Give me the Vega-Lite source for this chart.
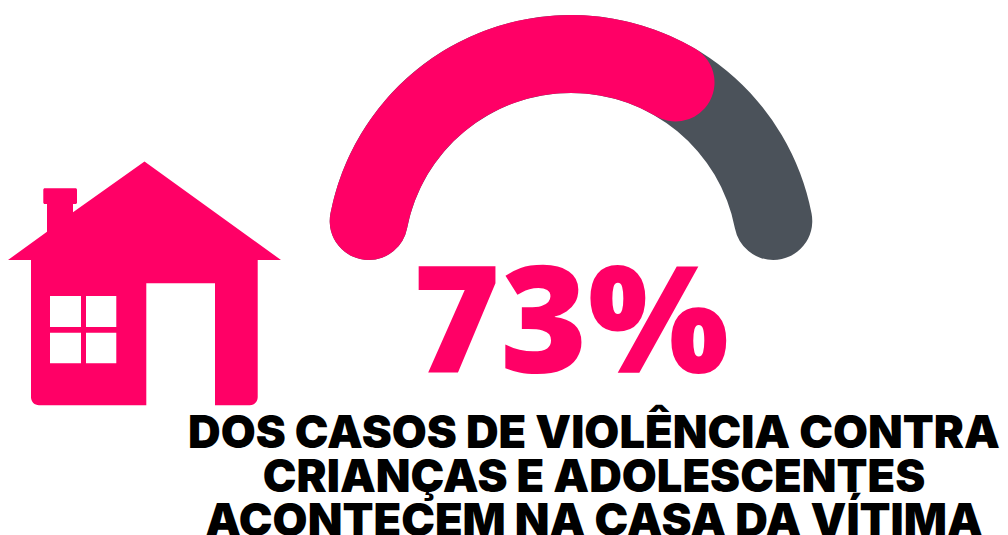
{
  "$schema": "https://vega.github.io/schema/vega-lite/v6.json",
  "width": 1008,
  "height": 535,
  "padding": 0,
  "autosize": {"type": "fit", "contains": "padding"},
  "background": "white",
  "view": {"stroke": null},
  "datasets": {
    "gauge": [
      {"part": "restante", "value": 100, "column": 2, "row": 1},
      {"part": "casa da vítima", "value": 73, "column": 2, "row": 1}
    ],
    "house": [{"part": "casa", "column": 1, "row": 2}],
    "figure": [{"label": "73%", "column": 2, "row": 3}],
    "caption": [
      {"line": "DOS CASOS DE VIOLÊNCIA CONTRA", "column": 3, "row": 4},
      {"line": "CRIANÇAS E ADOLESCENTES", "column": 3, "row": 5},
      {"line": "ACONTECEM NA CASA DA VÍTIMA", "column": 3, "row": 6}
    ]
  },
  "encoding": {
    "x": {
      "field": "column",
      "type": "quantitative",
      "axis": null,
      "scale": {"domain": [1, 2, 3], "range": [144.5, 571, 594]}
    },
    "y": {
      "field": "row",
      "type": "quantitative",
      "axis": null,
      "scale": {"domain": [1, 2, 3, 4, 5, 6], "range": [260, 283.5, 372.7, 447.7, 491.7, 535.7]}
    }
  },
  "layer": [
    {
      "data": {"name": "gauge"},
      "mark": {"type": "arc", "innerRadius": 167, "outerRadius": 245, "cornerRadius": 39},
      "encoding": {
        "theta": {
          "field": "value",
          "type": "quantitative",
          "stack": null,
          "scale": {"domain": [0, 100], "range": [-1.5708, 1.5708]}
        },
        "theta2": {"datum": 0},
        "color": {
          "field": "part",
          "type": "nominal",
          "legend": null,
          "sort": null,
          "scale": {"domain": ["restante", "casa da vítima"], "range": ["#4B525A", "#FF0066"]}
        }
      }
    },
    {
      "data": {"name": "house"},
      "mark": {
        "type": "point",
        "filled": true,
        "opacity": 1,
        "size": 4,
        "color": "#FF0066",
        "shape": "M0 -122L136.5 -23.5L113.2 -23.5L113.2 113.8A8 8 0 0 1 105.2 121.8L70.5 121.8L70.5 -0.2L1.8 -0.2L1.8 121.8L-105.5 121.8A8 8 0 0 1 -113.5 113.8L-113.5 -23.5L-136.5 -23.5L-97.5 -51.8L-97.5 -79.5L-99.7 -79.5A1.5 1.5 0 0 1 -101.2 -81L-101.2 -93.7A1.5 1.5 0 0 1 -99.7 -95.2L-69 -95.2A1.5 1.5 0 0 1 -67.5 -93.7L-67.5 -81A1.5 1.5 0 0 1 -69 -79.5L-71.5 -79.5L-71.5 -71.2ZM-94.5 12.5L-94.5 43.5L-63.5 43.5L-63.5 12.5ZM-58.5 12.5L-58.5 43.5L-28.2 43.5L-28.2 12.5ZM-94.5 49.2L-94.5 79.8L-63.5 79.8L-63.5 49.2ZM-58.5 49.2L-58.5 79.8L-28.2 79.8L-28.2 49.2Z"
      }
    },
    {
      "data": {"name": "figure"},
      "mark": {
        "type": "text",
        "font": "Open Sans",
        "fontWeight": 800,
        "fontSize": 149,
        "align": "center",
        "baseline": "alphabetic",
        "color": "#FF0066"
      },
      "encoding": {"text": {"field": "label"}}
    },
    {
      "data": {"name": "caption"},
      "mark": {
        "type": "text",
        "font": "Inter",
        "fontWeight": 900,
        "fontSize": 45.2,
        "align": "center",
        "baseline": "alphabetic",
        "color": "#000000"
      },
      "encoding": {"text": {"field": "line"}}
    }
  ]
}
